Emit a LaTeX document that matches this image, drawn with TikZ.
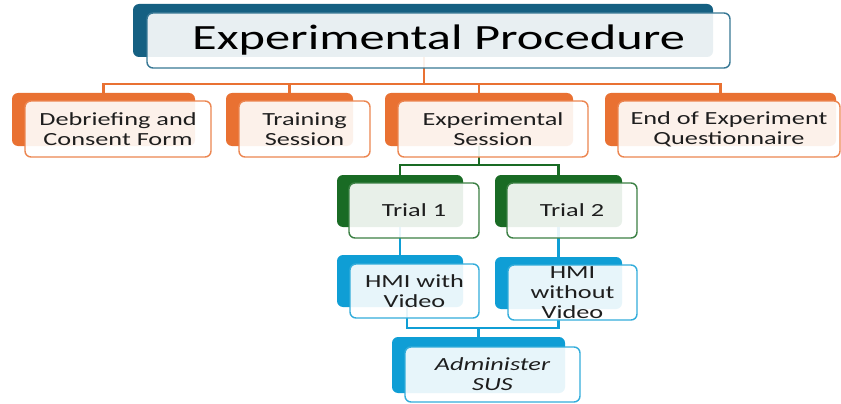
\documentclass[tikz,border=0pt]{standalone}
\usepackage{fontspec}
\setmainfont{Carlito}[FakeStretch=1.42]
\definecolor{ttl}{HTML}{156082}
\definecolor{org}{HTML}{E97132}
\definecolor{grn}{HTML}{196B24}
\definecolor{blu}{HTML}{0F9ED5}
\definecolor{txt}{HTML}{1E1E1E}
\newcommand{\boxfnt}{\fontsize{18.5}{20}\selectfont}
\newcommand{\ttlfnt}{\fontsize{35.5}{40}\selectfont}
\tikzset{
  bk/.style={draw=none, fill=#1, rounded corners=6, inner sep=0, outer sep=0},
  fr/.style={draw=#1!85!white, line width=1.4, fill=white, fill opacity=0.9,
    text opacity=1, rounded corners=6, align=center, inner sep=0, outer sep=0,
    font=\boxfnt, text=txt},
  cn/.style={draw=#1, line width=2.4},
}
\begin{document}
\begin{tikzpicture}[x=1pt,y=-1pt]
\useasboundingbox[fill=white] (0,0) rectangle (841,404);
% back boxes
\node[bk=ttl, minimum width=580, minimum height=53] (pb) at (423,30.5) {};
\node[bk=org, minimum width=183, minimum height=53] (db) at (103.5,119.5) {};
\node[bk=org, minimum width=127, minimum height=53] (tb) at (289.5,119.5) {};
\node[bk=org, minimum width=188, minimum height=53] (eb) at (479,119.5) {};
\node[bk=org, minimum width=231, minimum height=53] (qb) at (720.5,119.5) {};
\node[bk=grn, minimum width=126, minimum height=52] (t1b) at (400,201) {};
\node[bk=grn, minimum width=127, minimum height=52] (t2b) at (558.5,201) {};
\node[bk=blu, minimum width=126, minimum height=52] (h1b) at (400,281) {};
\node[bk=blu, minimum width=127, minimum height=52] (h2b) at (558.5,283) {};
\node[bk=blu, minimum width=173, minimum height=56] (sb) at (478.5,365) {};
% hub coordinates
\coordinate (oh) at (424,84);
\coordinate (gh) at (479,165);
\coordinate (bh) at (478.5,328);
% connectors
\draw[cn=org] (pb.south -| oh) -- (oh);
\draw[cn=org] (db.north) |- (oh) -| (qb.north);
\draw[cn=org] (tb.north) -- (tb.north |- oh);
\draw[cn=org] (eb.north) -- (eb.north |- oh);
\draw[cn=grn] (eb.south) -- (gh);
\draw[cn=grn] (t1b.north) |- (gh) -| (t2b.north);
\draw[cn=blu] (t1b.south) -- (h1b.north);
\draw[cn=blu] (t2b.south) -- (h2b.north);
\draw[cn=blu] ([xshift=7]h1b.south) |- (bh) -| (h2b.south);
\draw[cn=blu] (bh) -- (sb.north);
% front boxes
\node[fr=ttl, minimum width=583, minimum height=55, font=\ttlfnt, text=black] (p) at (438.5,40.5) {Experimental Procedure};
\node[fr=org, minimum width=186, minimum height=56] (d) at (118,129) {Debriefing and\\Consent Form};
\node[fr=org, minimum width=131, minimum height=56] (t) at (304.5,129) {Training\\Session};
\node[fr=org, minimum width=190, minimum height=56] (e) at (493,129) {Experimental\\Session};
\node[fr=org, minimum width=222, minimum height=56] (q) at (729,129) {End of Experiment\\Questionnaire};
\node[fr=grn, minimum width=130, minimum height=55] (t1) at (414,210.5) {Trial 1};
\node[fr=grn, minimum width=130, minimum height=55] (t2) at (572,210.5) {Trial 2};
\node[fr=blu, minimum width=129, minimum height=54] (h1) at (414.5,291) {HMI with\\Video};
\node[fr=blu, minimum width=129, minimum height=55] (h2) at (572.5,292.5) {HMI\\without\\Video};
\node[fr=blu, minimum width=175, minimum height=55] (s) at (492.5,374.5) {\itshape Administer\\\itshape SUS};
\end{tikzpicture}
\end{document}
